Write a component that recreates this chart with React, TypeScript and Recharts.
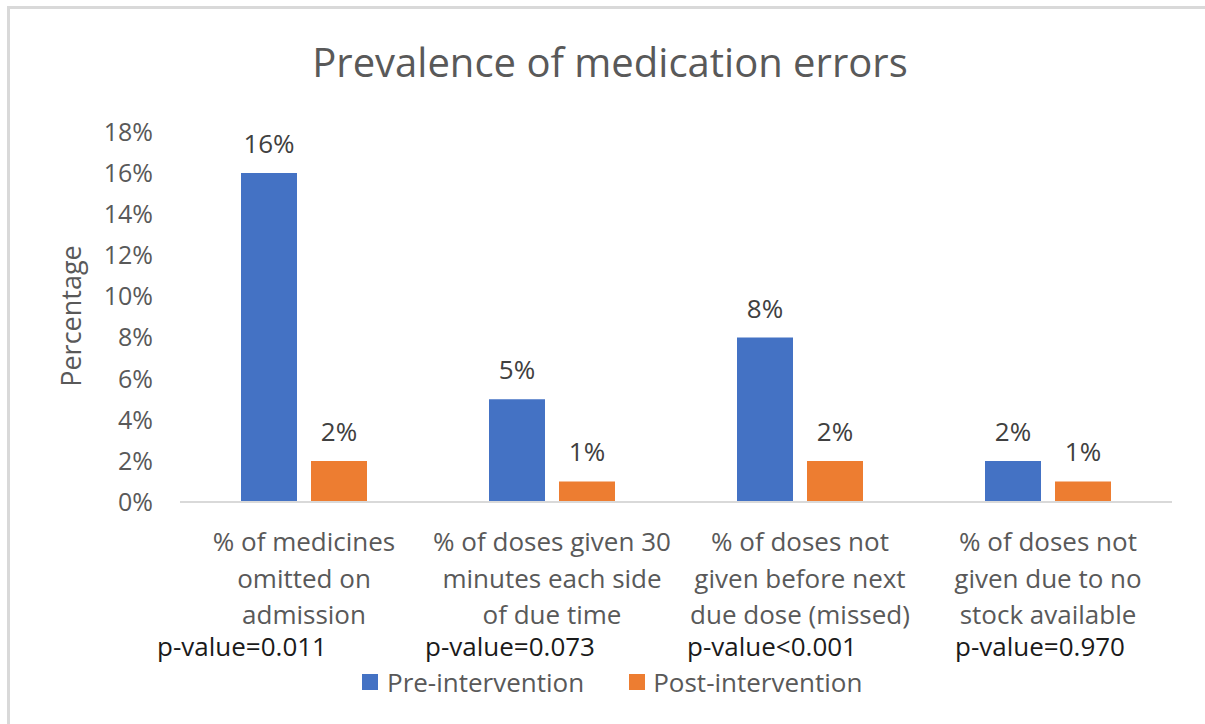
import { BarChart, Bar, XAxis, YAxis, LabelList, Legend } from "recharts";

const categories = [
  "% of medicines\nomitted on\nadmission",
  "% of doses given 30\nminutes each side\nof due time",
  "% of doses not\ngiven before next\ndue dose (missed)",
  "% of doses not\ngiven due to no\nstock available",
];
const preIntervention = [16, 5, 8, 2];
const postIntervention = [2, 1, 2, 1];
const pValues = ["p-value=0.011", "p-value=0.073", "p-value<0.001", "p-value=0.970"];
const yTicks = [0, 2, 4, 6, 8, 10, 12, 14, 16, 18];

// p-value boxes sit a bit left of each category centre in the original
const P_SHIFT = [-62, -42, -28, -8];

const FONT = "'Open Sans', 'Noto Sans', sans-serif";
const BLUE = "#4472C4";
const ORANGE = "#ED7D31";

const data = categories.map((c, i) => ({
  name: c,
  pre: preIntervention[i],
  post: postIntervention[i],
}));

// eslint-disable-next-line @typescript-eslint/no-explicit-any
const CatTick = (props: any) => {
  const { x, y, payload, index } = props;
  const lines = String(payload.value).split("\n");
  return (
    <g>
      {lines.map((l: string, i: number) => (
        <text key={i} x={x} y={y + 47 + i * 36.5} textAnchor="middle" fontSize={26} fill="#595959" fontFamily={FONT}>
          {l}
        </text>
      ))}
      <text x={x + P_SHIFT[index]} y={y + 152} textAnchor="middle" fontSize={26} fill="#1a1a1a" fontFamily={FONT}>
        {pValues[index]}
      </text>
    </g>
  );
};

const LegendBox = () => (
  <div style={{ display: "flex", alignItems: "center", fontFamily: FONT, fontSize: 26, color: "#595959", height: 36 }}>
    <span style={{ width: 16, height: 16, background: BLUE, marginRight: 9 }} />
    <span style={{ marginRight: 45 }}>Pre-intervention</span>
    <span style={{ width: 16, height: 16, background: ORANGE, marginRight: 8 }} />
    <span>Post-intervention</span>
  </div>
);

export default function App() {
  return (
    <div style={{ position: "fixed", left: 0, top: 0, width: 1205, height: 724, overflow: "hidden", background: "#fff", fontFamily: FONT }}>
      <div style={{ position: "absolute", left: 7, top: 6, width: 1250, height: 760, borderTop: "3px solid #d9d9d9", borderLeft: "3px solid #d9d9d9" }} />
      <svg width={1205} height={724} style={{ position: "absolute", left: 0, top: 0 }}>
        <text x={610} y={77} textAnchor="middle" fontSize={40} fill="#595959" fontFamily={FONT}>
          Prevalence of medication errors
        </text>
        <text x={81} y={316} transform="rotate(-90 81 316)" textAnchor="middle" fontSize={27} fill="#595959" fontFamily={FONT}>
          Percentage
        </text>
      </svg>
      <div style={{ position: "absolute", left: 0, top: 0 }}>
        <BarChart
          width={1205}
          height={724}
          data={data}
          margin={{ top: 132, right: 33, bottom: 0, left: 0 }}
          barSize={56}
          barGap={14}
        >
          <XAxis
            dataKey="name"
            interval={0}
            height={186}
            tickSize={0}
            tickLine={false}
            axisLine={{ stroke: "#d9d9d9", strokeWidth: 2 }}
            tick={<CatTick />}
          />
          <YAxis
            domain={[0, 18]}
            ticks={yTicks}
            width={180}
            tickSize={0}
            tickMargin={27}
            axisLine={false}
            tickLine={false}
            tickFormatter={(v: number) => `${v}%`}
            tick={{ fill: "#595959", fontSize: 25, fontFamily: FONT }}
          />
          <Legend
            verticalAlign="bottom"
            content={<LegendBox />}
            wrapperStyle={{ position: "absolute", left: 362, top: 664, width: "auto", height: 36 }}
          />
          <Bar dataKey="pre" name="Pre-intervention" fill={BLUE} isAnimationActive={false}>
            <LabelList dataKey="pre" position="top" offset={20} fill="#404040" fontSize={26} fontFamily={FONT} formatter={(v: number) => `${v}%`} />
          </Bar>
          <Bar dataKey="post" name="Post-intervention" fill={ORANGE} isAnimationActive={false}>
            <LabelList dataKey="post" position="top" offset={20} fill="#404040" fontSize={26} fontFamily={FONT} formatter={(v: number) => `${v}%`} />
          </Bar>
        </BarChart>
      </div>
    </div>
  );
}
